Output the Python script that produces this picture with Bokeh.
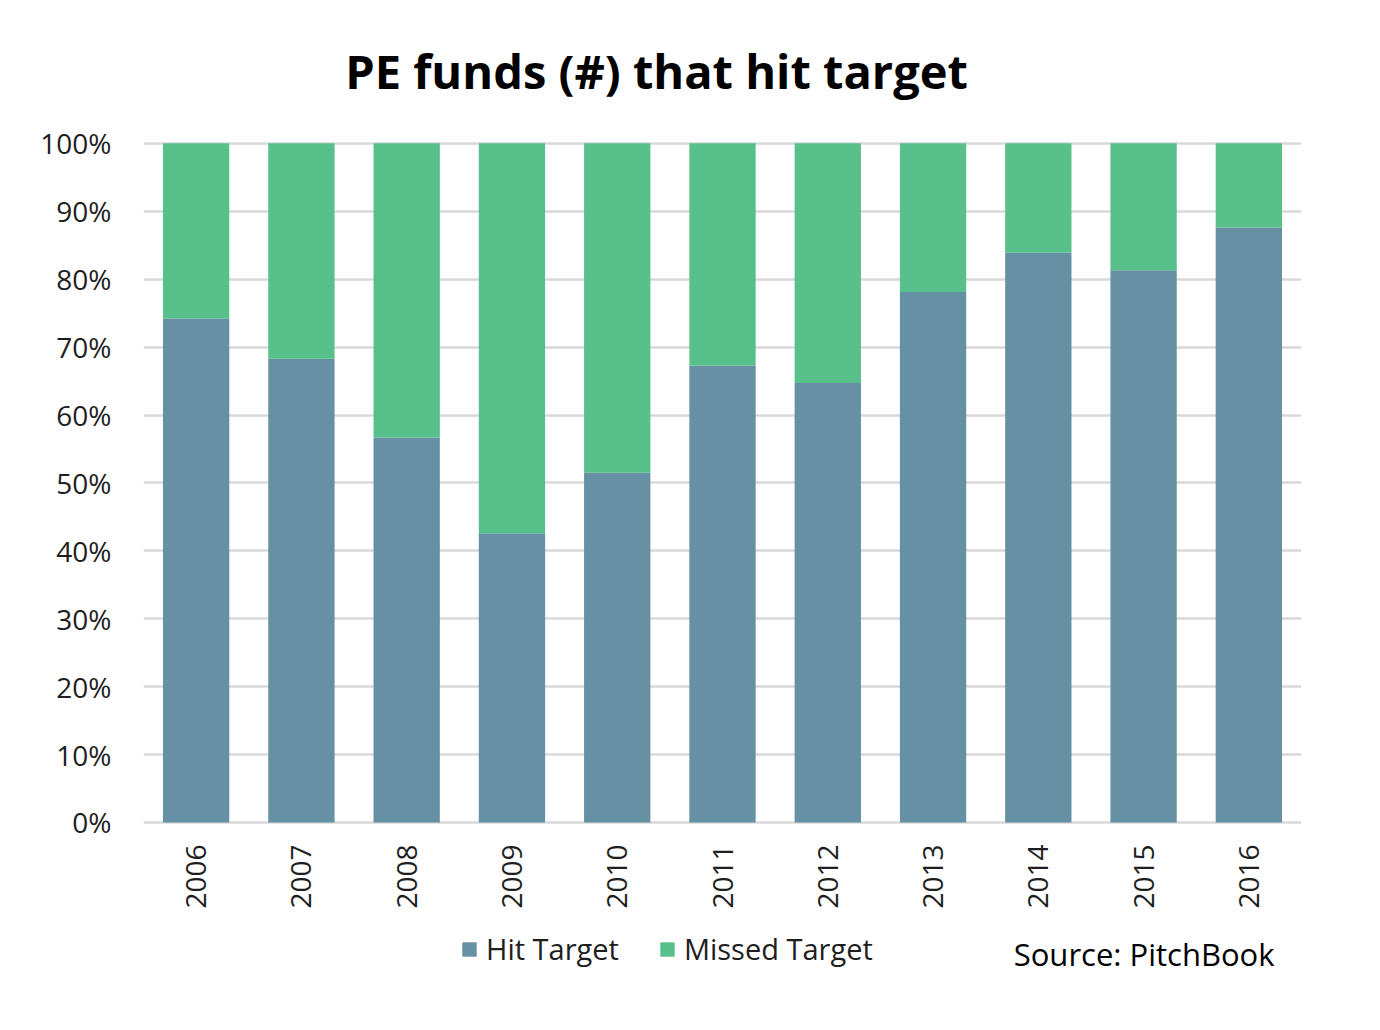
import math
from bokeh.plotting import figure
from bokeh.models import (FactorRange, Range1d, FixedTicker, Label, Legend, LegendItem,
                          ColumnDataSource)
from bokeh.core.properties import value
from bokeh.embed import file_html
from bokeh.resources import INLINE

years = ["2006", "2007", "2008", "2009", "2010", "2011", "2012", "2013", "2014", "2015", "2016"]
hit_target = [74.2, 68.3, 56.7, 42.6, 51.5, 67.3, 64.7, 78.1, 83.9, 81.3, 87.6]
missed_target = [25.8, 31.7, 43.3, 57.4, 48.5, 32.7, 35.3, 21.9, 16.1, 18.7, 12.4]
series = ["Hit Target", "Missed Target"]
colors = ["#6690A3", "#58C08A"]
y_ticks = [0, 10, 20, 30, 40, 50, 60, 70, 80, 90, 100]
title_text = "PE funds (#) that hit target"
source_text = "Source: PitchBook"

src = ColumnDataSource(dict(years=years, hit=hit_target, missed=missed_target,
                            base=[0] * len(years)))

p = figure(width=1364, height=1010, x_range=FactorRange(*years), y_range=Range1d(-26.8, 117.5),
           output_backend="svg", toolbar_location=None,
           min_border_left=143, min_border_right=63, min_border_top=24, min_border_bottom=6)
p.x_range.range_padding = 0
p.outline_line_color = None
p.background_fill_color = "white"
p.border_fill_color = "white"

rs = p.vbar_stack(["hit", "missed"], x="years", width=0.63, color=colors, line_color=None, source=src)

p.xgrid.grid_line_color = None
p.ygrid.grid_line_color = "#D9D9D9"
p.ygrid.grid_line_width = 2.5
p.ygrid.ticker = FixedTicker(ticks=y_ticks)

p.yaxis.ticker = FixedTicker(ticks=y_ticks)
p.yaxis.major_label_overrides = {t: f"{t}%" for t in y_ticks}
p.yaxis.axis_line_color = None
p.yaxis.major_tick_line_color = None
p.yaxis.minor_tick_line_color = None
p.yaxis.major_label_standoff = 26
p.yaxis.major_label_text_font = "Open Sans"
p.yaxis.major_label_text_font_size = "28px"
p.yaxis.major_label_text_color = "#1e1e1e"

p.xaxis.visible = False

# year labels below the bars, rotated to read bottom-to-top
p.text(x="years", y="base", text="years", source=src, angle=math.pi / 2,
       text_align="right", text_baseline="middle", y_offset=22,
       text_font=value("Open Sans"), text_font_size="28px", text_color="#1e1e1e")

title = Label(x=513, y=934, x_units="screen", y_units="screen", text=title_text,
              text_align="center", text_baseline="alphabetic",
              text_font="Open Sans", text_font_style="bold", text_font_size="47px", text_color="black")
p.add_layout(title)

src_label = Label(x=1131, y=51, x_units="screen", y_units="screen", text=source_text,
                  text_align="right", text_baseline="alphabetic",
                  text_font="Open Sans", text_font_size="31px", text_color="black")
p.add_layout(src_label)

legend = Legend(items=[LegendItem(label=series[i], renderers=[rs[i]]) for i in range(2)],
                location=(317, 36), orientation="horizontal",
                glyph_width=18, glyph_height=18, label_standoff=8, spacing=39,
                padding=0, margin=0, border_line_color=None, background_fill_alpha=0,
                label_text_font="Open Sans", label_text_font_size="29px", label_text_color="#1e1e1e")
p.add_layout(legend)

open("out.html", "w").write(file_html(p, INLINE))
